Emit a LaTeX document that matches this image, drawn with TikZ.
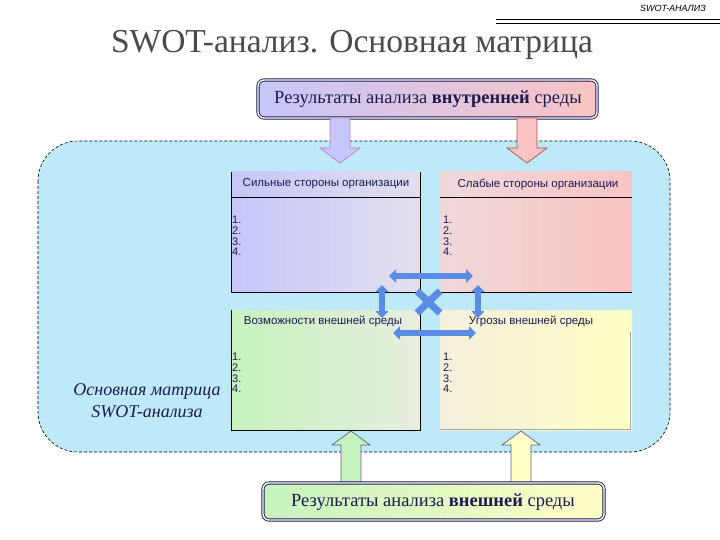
\documentclass[tikz,border=0pt]{standalone}
\usepackage{fontspec}
\setmainfont{Liberation Serif}
\setsansfont{Liberation Sans}
\usetikzlibrary{arrows.meta}
\definecolor{bgcyan}{HTML}{BEE9F8}
\definecolor{navy}{HTML}{1C1C50}
\definecolor{lavL}{HTML}{C6C6FA}
\definecolor{lavR}{HTML}{E2E0EE}
\definecolor{pinkL}{HTML}{EFD8DA}
\definecolor{pinkR}{HTML}{FAC4C4}
\definecolor{grnL}{HTML}{C6F2BE}
\definecolor{grnR}{HTML}{E8EEE0}
\definecolor{yelL}{HTML}{F4F0DC}
\definecolor{yelR}{HTML}{FFFFC6}
\definecolor{bluearr}{HTML}{5A8CE4}
\definecolor{titlegray}{HTML}{4A4A4A}
\tikzset{
  resbox/.style={draw=navy, double=white, double distance=1.4pt, line width=0.9pt, rounded corners=6pt},
  restext/.style={font=\fontsize{18.5}{20}\selectfont, text=navy},
  qhead/.style={font=\sffamily\fontsize{11.5}{13}\selectfont, text=navy},
  qnum/.style={font=\sffamily\fontsize{11}{10.7}\selectfont, text=navy, align=left, anchor=north west, inner sep=0pt},
  qline/.style={draw=black, line width=0.8pt},
  barrow/.style={draw=bluearr, line width=6pt, {Triangle[width=13pt,length=7pt]}-{Triangle[width=13pt,length=7pt]}},
}
\begin{document}
\begin{tikzpicture}[x=1pt,y=-1pt]
\useasboundingbox (0,0) rectangle (720,540);
% header
\node[font=\sffamily\itshape\fontsize{9}{10}\selectfont, anchor=east, inner sep=0pt] (hdr) at (706,8) {SWOT-АНАЛИЗ};
\draw[line width=1.6pt] (496,19.5) -- (720,19.5);
\draw[line width=0.6pt] (496,23) -- (720,23);
% title
\node[font=\fontsize{33.5}{36}\selectfont, text=titlegray] (title) at (352,45) {SWOT-анализ. Основная матрица};
% big dashed area
\draw[dash pattern=on 3pt off 2pt, line width=0.6pt, fill=bgcyan, rounded corners=40pt] (38,141) rectangle (670,452);
% top box
\shade[left color=lavL, right color=pinkR, rounded corners=6pt] (258,80) rectangle (597,118);
\draw[resbox] (258,80) rectangle (597,118);
\node[restext] (topbox) at (428,99) {Результаты анализа \textbf{внутренней} среды};
% down arrows
\draw[draw=violet!50, fill=lavL, line width=0.7pt] (330,118) -- (330,148) -- (320,148) -- (340,163) -- (360,148) -- (350,148) -- (350,118) -- cycle;
\draw[draw=red!35!gray, fill=pinkR, line width=0.7pt] (517,118) -- (517,148) -- (507,148) -- (527,163) -- (547,148) -- (537,148) -- (537,118) -- cycle;
% quadrants
\shade[left color=lavL, right color=lavR] (231,172) rectangle (420,292);
\shade[left color=pinkL, right color=pinkR] (440,172) rectangle (632,292);
\shade[left color=grnL, right color=grnR] (231,310) rectangle (420,430);
\shade[left color=yelL, right color=yelR] (440,310) rectangle (632,430);
\draw[qline] (231,172) -- (231,292) -- (420,292) -- (420,172);
\draw[qline] (231,197) -- (420,197);
\draw[qline] (440,197) -- (632,197);
\draw[qline] (440,292) -- (632,292);
\draw[qline] (231,310) -- (231,430) -- (420,430) -- (420,310);
\draw[draw=gray!70, line width=0.6pt] (440,429) -- (630,429) -- (630,332);
\node[qhead] (qS) at (326,184) {Сильные стороны организации};
\node[qhead] (qW) at (538,184) {Слабые стороны организации};
\node[qhead] (qO) at (323,321) {Возможности внешней среды};
\node[qhead] (qT) at (531,321) {Угрозы внешней среды};
\node[qnum] (nS) at (232,216) {1.\\2.\\3.\\4.};
\node[qnum] (nW) at (443,216) {1.\\2.\\3.\\4.};
\node[qnum] (nO) at (232,353) {1.\\2.\\3.\\4.};
\node[qnum] (nT) at (443,353) {1.\\2.\\3.\\4.};
% left label
\node[font=\itshape\fontsize{18}{22}\selectfont, text=navy, align=center] (lbl) at (147,401) {Основная матрица\\SWOT-анализа};
% blue arrows
\coordinate (h1a) at (389,276); \coordinate (h1b) at (473,276);
\coordinate (h2a) at (393,333); \coordinate (h2b) at (476,333);
\coordinate (v1a) at (382,285); \coordinate (v1b) at (382,318);
\coordinate (v2a) at (478,285); \coordinate (v2b) at (478,318);
\draw[barrow] (h1a) -- (h1b);
\draw[barrow] (h2a) -- (h2b);
\draw[barrow] (v1a) -- (v1b);
\draw[barrow] (v2a) -- (v2b);
\draw[draw=bluearr, line width=7pt] (417,291) -- (440,313);
\draw[draw=bluearr, line width=7pt] (440,291) -- (417,313);
% up arrows
\draw[draw=navy!70, fill=grnL, line width=0.7pt] (341,483) -- (341,445) -- (332,445) -- (351,431) -- (370,445) -- (361,445) -- (361,483) -- cycle;
\draw[draw=navy!70, fill=yelR, line width=0.7pt] (511,483) -- (511,445) -- (502,445) -- (521,431) -- (540,445) -- (531,445) -- (531,483) -- cycle;
% bottom box
\shade[left color=grnL, right color=yelR, rounded corners=6pt] (263,483) rectangle (604,520);
\draw[resbox] (263,483) rectangle (604,520);
\node[restext] (botbox) at (433,502) {Результаты анализа \textbf{внешней} среды};
\end{tikzpicture}
\end{document}
